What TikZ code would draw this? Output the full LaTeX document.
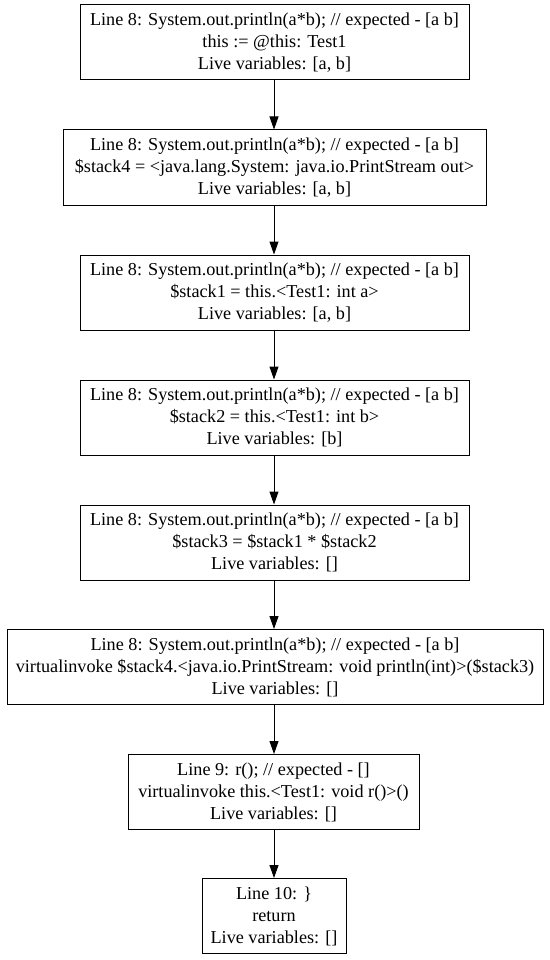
\documentclass[tikz,border=0pt]{standalone}
\usepackage{fontspec}
\setmainfont{Liberation Serif}
\usetikzlibrary{arrows.meta}
\begin{document}
\begin{tikzpicture}[x=1pt,y=-1pt,
  blk/.style={draw,line width=1pt,inner sep=0pt,align=center,
    font=\fontsize{18.2}{22}\selectfont,minimum height=75pt},
  arr/.style={-{Triangle[length=13pt,width=9pt]},line width=1pt}]
\useasboundingbox (0,0) rectangle (549,960);
\node[blk,minimum width=389pt] (n1) at (274.5,42.5) {Line 8: System.out.println(a*b); // expected - [a b]\\this := @this: Test1\\Live variables: [a, b]};
\node[blk,minimum width=423pt] (n2) at (274.5,167.5) {Line 8: System.out.println(a*b); // expected - [a b]\\\$stack4 = <java.lang.System: java.io.PrintStream out>\\Live variables: [a, b]};
\node[blk,minimum width=389pt] (n3) at (274.5,292.5) {Line 8: System.out.println(a*b); // expected - [a b]\\\$stack1 = this.<Test1: int a>\\Live variables: [a, b]};
\node[blk,minimum width=389pt] (n4) at (274.5,417.5) {Line 8: System.out.println(a*b); // expected - [a b]\\\$stack2 = this.<Test1: int b>\\Live variables: [b]};
\node[blk,minimum width=389pt] (n5) at (274.5,542.5) {Line 8: System.out.println(a*b); // expected - [a b]\\\$stack3 = \$stack1 * \$stack2\\Live variables: []};
\node[blk,minimum width=536pt] (n6) at (275,667) {Line 8: System.out.println(a*b); // expected - [a b]\\virtualinvoke \$stack4.<java.io.PrintStream: void println(int)>(\$stack3)\\Live variables: []};
\node[blk,minimum width=291pt] (n7) at (273.5,792) {Line 9: r(); // expected - []\\virtualinvoke this.<Test1: void r()>()\\Live variables: []};
\node[blk,minimum width=144pt] (n8) at (274,916) {Line 10: \}\\return\\Live variables: []};
\draw[arr] (n1.south -| 274,0) -- (n2.north -| 274,0);
\draw[arr] (n2.south -| 274,0) -- (n3.north -| 274,0);
\draw[arr] (n3.south -| 274,0) -- (n4.north -| 274,0);
\draw[arr] (n4.south -| 274,0) -- (n5.north -| 274,0);
\draw[arr] (n5.south -| 274,0) -- (n6.north -| 274,0);
\draw[arr] (n6.south -| 274,0) -- (n7.north -| 274,0);
\draw[arr] (n7.south -| 274,0) -- (n8.north -| 274,0);
\end{tikzpicture}
\end{document}
